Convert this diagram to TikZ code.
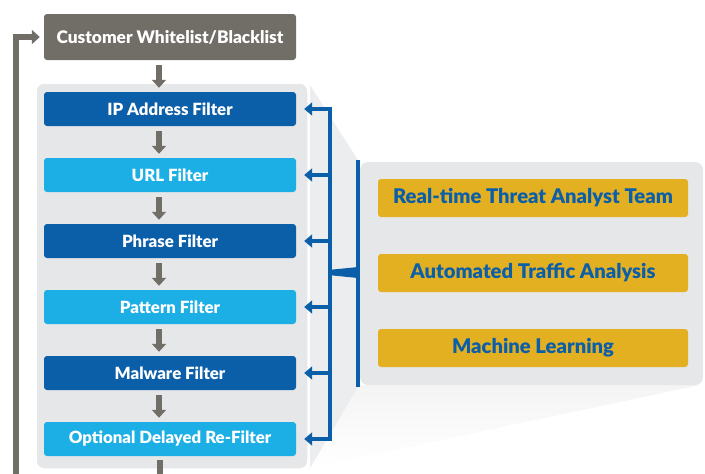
\documentclass[tikz,border=0pt]{standalone}
\usepackage{fontspec}
\setmainfont{Lato}[BoldFont={Lato Black}]
\usetikzlibrary{arrows.meta}
\definecolor{cgray}{HTML}{716E67}
\definecolor{panel}{HTML}{E6E7E8}
\definecolor{funnel}{HTML}{ECEDEE}
\definecolor{fade}{HTML}{F4F4F5}
\definecolor{dblue}{HTML}{0B5EA8}
\definecolor{lblue}{HTML}{1CAFE5}
\definecolor{gold}{HTML}{E3B022}
\tikzset{
  box/.style={rounded corners=3pt, minimum width=252pt, minimum height=34pt, inner sep=0pt,
    text=white, font=\bfseries\fontsize{16.8}{18}\selectfont},
  darkbox/.style={box, fill=dblue},
  lightbox/.style={box, fill=lblue},
  custbox/.style={box, fill=cgray, minimum height=46pt, font=\bfseries\fontsize{17.3}{18}\selectfont},
  goldbox/.style={rounded corners=3pt, fill=gold, minimum width=310pt, minimum height=38pt,
    inner sep=0pt, text=dblue, font=\bfseries\fontsize{20.2}{22}\selectfont},
  grayarrow/.style={draw=cgray, line width=5.5pt, -{Triangle[width=14pt,length=8pt]}},
  bluearrow/.style={draw=dblue, line width=4pt, -{Triangle[width=13pt,length=8pt]}},
  blueline/.style={draw=dblue, line width=4pt},
}
\begin{document}
\begin{tikzpicture}[x=1pt,y=-1pt]
\useasboundingbox (0,0) rectangle (705,474);
% funnel and fading wedge
\shade[left color=fade, right color=white, shading angle=0]
  (310,468) -- (700,385) -- (358,385) -- cycle;
\fill[funnel] (310,85) -- (358,160) -- (358,387) -- (310,468) -- cycle;
% panels
\fill[panel, rounded corners=8pt] (360,162) rectangle (703,385);
\draw[draw=white, line width=1.5pt, fill=panel, rounded corners=8pt] (36,83) rectangle (308,469);
% nodes
\node[custbox] (cust) at (170,37) {Customer Whitelist/Blacklist};
\node[darkbox] (ip) at (170,109) {IP Address Filter};
\node[lightbox] (url) at (170,175) {URL Filter};
\node[darkbox] (phrase) at (170,241) {Phrase Filter};
\node[lightbox] (pattern) at (170,307) {Pattern Filter};
\node[darkbox] (malware) at (170,373) {Malware Filter};
\node[lightbox] (opt) at (170,439) {Optional Delayed Re-Filter};
\node[goldbox] (rt) at (533,198) {Real-time Threat Analyst Team};
\node[goldbox] (ata) at (533,273) {Automated Traffic Analysis};
\node[goldbox] (ml) at (533,348) {Machine Learning};
% gray flow arrows
\foreach \a/\b in {cust/ip, ip/url, url/phrase, phrase/pattern, pattern/malware, malware/opt}
  \draw[grayarrow, shorten <=5pt, shorten >=4pt] ([xshift=-11pt]\a.south) -- ([xshift=-11pt]\b.north);
\coordinate (outb) at (160,474);
\draw[draw=cgray, line width=5.5pt] ([xshift=-10pt]opt.south) ++(0,4) -- (outb);
\coordinate (loopb) at (16,474);
\draw[grayarrow, shorten >=4pt] (loopb) |- (cust.west);
% blue bracket
\coordinate (bt) at (330,109);
\coordinate (bb) at (330,439);
\coordinate (lt) at (358,160);
\coordinate (lb) at (358,387);
\draw[blueline] (lt) -- (lb);
\draw[blueline, line cap=butt] ([yshift=-2pt]bt) -- ([yshift=2pt]bb);
\fill[dblue] (328,270) -- (358,267) -- (358,278) -- (328,275) -- cycle;
\foreach \n/\y in {ip/109, url/175, phrase/241, pattern/307, malware/373, opt/439}{
  \coordinate (s\n) at (332,\y);
  \draw[bluearrow, shorten >=8pt] (s\n) -- (\n.east);
}
\end{tikzpicture}
\end{document}
